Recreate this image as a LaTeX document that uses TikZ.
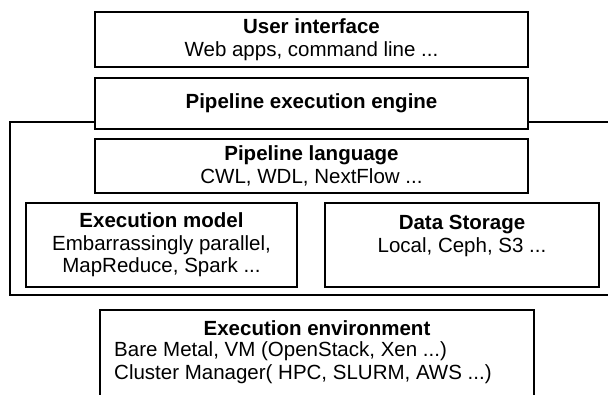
\documentclass[tikz,border=0pt]{standalone}
\usepackage{fontspec}
\setmainfont{Liberation Sans}
\begin{document}
\begin{tikzpicture}[x=1pt,y=-1pt,
  box/.style={draw, line width=1.8pt, fill=white, inner sep=0pt},
  txt/.style={inner sep=0pt, align=center, font=\fontsize{20.5}{22.5}\selectfont},
  frame/.style={line width=1.8pt}]
\useasboundingbox (0,0) rectangle (608,394);
% outer frame (open on the right, runs off the picture)
\coordinate (ftr) at (615,122);
\coordinate (ftl) at (10,122);
\coordinate (fbl) at (10,295);
\coordinate (fbr) at (615,295);
\draw[frame] (ftr) -- (ftl) -- (fbl) -- (fbr);
% boxes
\node[box, minimum width=433pt, minimum height=55pt] (ui) at (311.5,39.5) {};
\node[box, minimum width=433pt, minimum height=51pt] (eng) at (311.5,103.5) {};
\node[box, minimum width=433pt, minimum height=54pt] (lang) at (311.5,166) {};
\node[box, minimum width=271pt, minimum height=84pt] (model) at (161.5,245) {};
\node[box, minimum width=274pt, minimum height=84pt] (store) at (462,245) {};
\node[box, minimum width=434pt, minimum height=120pt] (env) at (317,370) {};
% texts
\node[txt] (uit) at (ui.center) {\textbf{User interface}\\Web apps, command line ...};
\node[txt] (engt) at (eng.center) {\textbf{Pipeline execution engine}};
\node[txt] (langt) at (lang.center) {\textbf{Pipeline language}\\CWL, WDL, NextFlow ...};
\node[txt] (modelt) at (model.center) {\textbf{Execution model}\\Embarrassingly parallel,\\MapReduce, Spark ...};
\node[txt] (storet) at (462,236) {\textbf{Data Storage}\\Local, Ceph, S3 ...};
\node[txt] (envt) at (317,328) {\textbf{Execution environment}};
\node[txt, align=left, anchor=west] (envl) at (114,362.5) {Bare Metal, VM (OpenStack, Xen ...)\\Cluster Manager( HPC, SLURM, AWS ...)};
\end{tikzpicture}
\end{document}
